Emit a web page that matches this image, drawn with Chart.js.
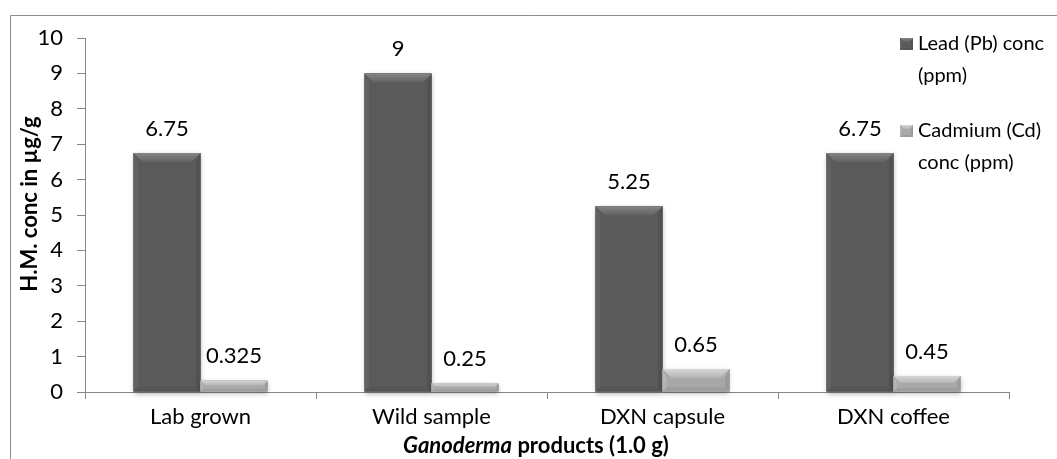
<!DOCTYPE html>
<html>
<head>
<meta charset="utf-8">
<script src="https://cdn.jsdelivr.net/npm/chart.js@4"></script>
<style>
  html, body { margin: 0; padding: 0; background: #fff; }
  #wrap { width: 1057px; height: 459px; position: relative; }
</style>
</head>
<body>
<div id="wrap"><canvas id="myChart" width="1057" height="459"></canvas></div>
<script>
const categories = ['Lab grown', 'Wild sample', 'DXN capsule', 'DXN coffee']
const leadValues = [6.75, 9, 5.25, 6.75]
const cadmiumValues = [0.325, 0.25, 0.65, 0.45]
const seriesNames = [['Lead (Pb) conc', '(ppm)'], ['Cadmium (Cd)', 'conc (ppm)']]
const yTicks = [0, 1, 2, 3, 4, 5, 6, 7, 8, 9, 10]

const FONT = 'Lato, "Open Sans", sans-serif'
const ctx = document.getElementById('myChart').getContext('2d')

// colours for each series: body, top bevel, side light, side dark
const looks = [
  { body: '#5a5a5a', top: '#858585', light: '#626262', dark: '#525252', bottom: '#555555' },
  { body: '#a8a8a8', top: '#d6d6d6', light: '#b4b4b4', dark: '#9a9a9a', bottom: '#9e9e9e' }
]

function bevelRect(c, left, top, right, bottom, look, size) {
  const h = bottom - top
  const b = Math.min(size, h * 0.45, (right - left) / 2)
  c.save()
  c.fillStyle = look.body
  c.fillRect(left, top, right - left, h)
  // top
  const g = c.createLinearGradient(0, top, 0, top + b)
  g.addColorStop(0, look.top)
  g.addColorStop(1, look.light)
  c.fillStyle = g
  c.beginPath()
  c.moveTo(left, top); c.lineTo(right, top); c.lineTo(right - b, top + b); c.lineTo(left + b, top + b)
  c.closePath(); c.fill()
  // left
  c.fillStyle = look.light
  c.beginPath()
  c.moveTo(left, top); c.lineTo(left + b * 0.5, top + b); c.lineTo(left + b * 0.5, bottom - b * 0.5); c.lineTo(left, bottom)
  c.closePath(); c.fill()
  // right
  c.fillStyle = look.dark
  c.beginPath()
  c.moveTo(right, top); c.lineTo(right - b * 0.5, top + b); c.lineTo(right - b * 0.5, bottom - b * 0.5); c.lineTo(right, bottom)
  c.closePath(); c.fill()
  // bottom
  c.fillStyle = look.bottom
  c.beginPath()
  c.moveTo(left, bottom); c.lineTo(left + b * 0.5, bottom - b * 0.5); c.lineTo(right - b * 0.5, bottom - b * 0.5); c.lineTo(right, bottom)
  c.closePath(); c.fill()
  c.restore()
}

const bevelBars = {
  id: 'bevel_bars',
  beforeDraw: (chart) => {
    const c = chart.ctx
    c.save()
    c.fillStyle = '#fff'
    c.fillRect(0, 0, chart.width, chart.height)
    // outer frame
    c.strokeStyle = '#8c8c8c'
    c.lineWidth = 1
    c.beginPath()
    c.moveTo(10.5, chart.height)
    c.lineTo(10.5, 15.5)
    c.lineTo(chart.width, 15.5)
    c.stroke()
    c.restore()
  },
  afterDatasetsDraw: (chart) => {
    const c = chart.ctx
    chart.data.datasets.forEach((ds, i) => {
      const meta = chart.getDatasetMeta(i)
      meta.data.forEach((bar, j) => {
        const p = bar.getProps(['x', 'y', 'base', 'width'], true)
        const left = p.x - p.width / 2
        const right = p.x + p.width / 2
        // soft shadow
        c.save()
        c.shadowColor = 'rgba(0,0,0,0.3)'
        c.shadowBlur = 5
        c.shadowOffsetY = 2
        c.fillStyle = looks[i].body
        c.fillRect(left, p.y, p.width, p.base - p.y)
        c.restore()
        bevelRect(c, left, p.y, right, p.base, looks[i], 9)
        // value label
        c.save()
        c.fillStyle = '#000'
        c.font = '22px ' + FONT
        c.textAlign = 'center'
        c.textBaseline = 'alphabetic'
        c.fillText(String(ds.data[j]), p.x, p.y - 17)
        c.restore()
      })
    })
  },
  afterDraw: (chart) => {
    const c = chart.ctx
    c.save()
    c.fillStyle = '#000'
    // y title
    c.font = 'bold 22px ' + FONT
    c.translate(30, 204)
    c.rotate(-Math.PI / 2)
    c.textAlign = 'center'
    c.textBaseline = 'middle'
    c.fillText('H.M. conc in µg/g', 0, 0)
    c.restore()

    // x title with italic genus name
    c.save()
    c.fillStyle = '#000'
    c.textBaseline = 'middle'
    const part1 = 'Ganoderma'
    const part2 = ' products (1.0 g)'
    c.font = 'italic bold 22px ' + FONT
    const w1 = c.measureText(part1).width
    c.font = 'bold 22px ' + FONT
    const w2 = c.measureText(part2).width
    const x = 536 - (w1 + w2) / 2
    c.font = 'italic bold 22px ' + FONT
    c.fillText(part1, x, 446)
    c.font = 'bold 22px ' + FONT
    c.fillText(part2, x + w1, 446)
    c.restore()

    // legend
    c.save()
    c.font = '20px ' + FONT
    c.fillStyle = '#000'
    c.textBaseline = 'middle'
    const rows = [44, 131]
    seriesNames.forEach((lines, i) => {
      bevelRect(c, 900, rows[i] - 6, 913, rows[i] + 6, looks[i], 4)
      lines.forEach((t, k) => c.fillText(t, 918, rows[i] + k * 32))
    })
    c.restore()
  }
}

const data = {
  labels: categories,
  datasets: [
    { label: seriesNames[0].join(' '), data: leadValues, backgroundColor: 'rgba(0,0,0,0)' },
    { label: seriesNames[1].join(' '), data: cadmiumValues, backgroundColor: 'rgba(0,0,0,0)' }
  ]
}

const options = {
  responsive: false,
  animation: false,
  events: [],
  layout: { padding: { left: 0, right: 48, top: 38, bottom: 0 } },
  datasets: { bar: { categoryPercentage: 0.58, barPercentage: 1 } },
  plugins: { legend: { display: false }, tooltip: { enabled: false } },
  scales: {
    x: {
      grid: { drawOnChartArea: false, tickLength: 7, color: '#868686' },
      border: { color: '#868686' },
      ticks: { color: '#000', font: { family: FONT, size: 22 }, padding: 5 },
      afterFit: (s) => { s.height = 67 }
    },
    y: {
      min: 0,
      max: 10,
      afterBuildTicks: (s) => { s.ticks = yTicks.map(v => ({ value: v })) },
      grid: { drawOnChartArea: false, tickLength: 8, color: '#868686' },
      border: { color: '#868686' },
      ticks: { color: '#000', font: { family: FONT, size: 22 }, padding: 14 },
      afterFit: (s) => { s.width = 85 }
    }
  }
}

new Chart(ctx, { type: 'bar', data, options, plugins: [bevelBars] })
</script>
</body>
</html>
